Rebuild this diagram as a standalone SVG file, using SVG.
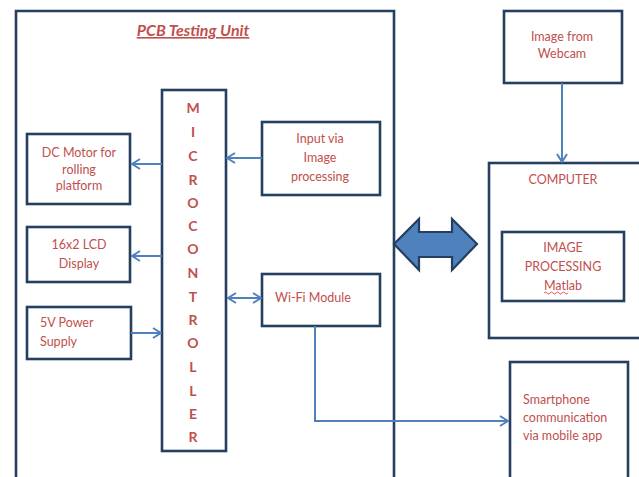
<svg xmlns="http://www.w3.org/2000/svg" width="639" height="477" viewBox="0 0 639 477">
<defs>
<style>
.box{fill:#fff;stroke:#243f60;stroke-width:2.6}
.t{font-family:Lato,"Open Sans",sans-serif;font-size:12.5px;fill:#c0504d}
.c{text-anchor:middle}
.m{font-family:Lato,"Open Sans",sans-serif;font-size:14px;font-weight:bold;fill:#c0504d;text-anchor:middle}
.ln{fill:none;stroke:#4f81bd;stroke-width:2}
</style>
<marker id="ah" viewBox="0 0 12 12" refX="11" refY="6" markerWidth="12" markerHeight="12" markerUnits="userSpaceOnUse" orient="auto-start-reverse">
<path d="M3,1 L11,6 L3,11" fill="none" stroke="#4f81bd" stroke-width="2"/>
</marker>
</defs>
<rect width="639" height="477" fill="#fff"/>
<g id="pcb">
<path d="M16,480 V11 H394 V480" class="box"/>
<text x="193" y="36" font-family="Lato,'Open Sans',sans-serif" font-size="16" font-weight="bold" font-style="italic" fill="#c0504d" text-anchor="middle" text-decoration="underline">PCB Testing Unit</text>
</g>
<g id="micro">
<rect x="162" y="90" width="64" height="361" class="box"/>
<text class="m" x="193" y="113">M</text>
<text class="m" x="193" y="137">I</text>
<text class="m" x="193" y="161">C</text>
<text class="m" x="193" y="185">R</text>
<text class="m" x="193" y="208">O</text>
<text class="m" x="193" y="231">C</text>
<text class="m" x="193" y="254">O</text>
<text class="m" x="193" y="278">N</text>
<text class="m" x="193" y="302">T</text>
<text class="m" x="193" y="325">R</text>
<text class="m" x="193" y="348">O</text>
<text class="m" x="193" y="372">L</text>
<text class="m" x="193" y="396">L</text>
<text class="m" x="193" y="419">E</text>
<text class="m" x="193" y="442">R</text>
</g>
<g id="dcmotor">
<rect x="27" y="134" width="103" height="70" class="box"/>
<text class="t c" x="79" y="157">DC Motor for</text>
<text class="t c" x="79" y="174">rolling</text>
<text class="t c" x="79" y="190">platform</text>
</g>
<g id="lcd">
<rect x="27" y="227" width="103" height="55" class="box"/>
<text class="t c" x="79" y="249">16x2 LCD</text>
<text class="t c" x="79" y="268">Display</text>
</g>
<g id="power">
<rect x="27" y="307" width="104" height="52" class="box"/>
<text class="t" x="40" y="327">5V Power</text>
<text class="t" x="40" y="346">Supply</text>
</g>
<g id="input">
<rect x="262" y="122" width="118" height="73" class="box"/>
<text class="t c" x="320" y="143">Input via</text>
<text class="t c" x="320" y="162">Image</text>
<text class="t c" x="320" y="181">processing</text>
</g>
<g id="wifi">
<rect x="262" y="274" width="118" height="52" class="box"/>
<text class="t" x="275" y="302">Wi-Fi Module</text>
</g>
<g id="webcam">
<rect x="504" y="11" width="118" height="72" class="box"/>
<text class="t c" x="562" y="41">Image from</text>
<text class="t c" x="562" y="58">Webcam</text>
</g>
<g id="computer">
<rect x="489" y="163" width="152" height="175" class="box"/>
<text class="t c" x="563" y="184">COMPUTER</text>
</g>
<g id="imgproc">
<rect x="502" y="232" width="122" height="69" class="box"/>
<text class="t c" x="563" y="252">IMAGE</text>
<text class="t c" x="563" y="271">PROCESSING</text>
<text class="t c" x="563" y="290">Matlab</text>
<path d="M544,293 q1.5,-2 3,0 t3,0 t3,0 t3,0 t3,0 t3,0 t3,0 t3,0" fill="none" stroke="#e03030" stroke-width="0.8"/>
</g>
<g id="smartphone">
<rect x="510" y="362" width="118" height="120" class="box"/>
<text class="t" x="523" y="404">Smartphone</text>
<text class="t" x="523" y="422">communication</text>
<text class="t" x="523" y="440">via mobile app</text>
</g>
<g id="connectors">
<line x1="162" y1="164" x2="132" y2="164" class="ln" marker-end="url(#ah)"/>
<line x1="162" y1="256" x2="132" y2="256" class="ln" marker-end="url(#ah)"/>
<line x1="131" y1="333" x2="161" y2="333" class="ln" marker-end="url(#ah)"/>
<line x1="262" y1="158" x2="227" y2="158" class="ln" marker-end="url(#ah)"/>
<line x1="228" y1="298" x2="261" y2="298" class="ln" marker-start="url(#ah)" marker-end="url(#ah)"/>
<polyline points="315,326 315,421 508,421" class="ln" marker-end="url(#ah)"/>
<line x1="562" y1="83" x2="562" y2="162" class="ln" marker-end="url(#ah)"/>
<polygon points="394,244 419,219 419,232 452,232 452,219 477,244 452,270 452,257 419,257 419,270" fill="#4f81bd" stroke="#243f60" stroke-width="2.2" stroke-linejoin="miter"/>
</g>
</svg>
